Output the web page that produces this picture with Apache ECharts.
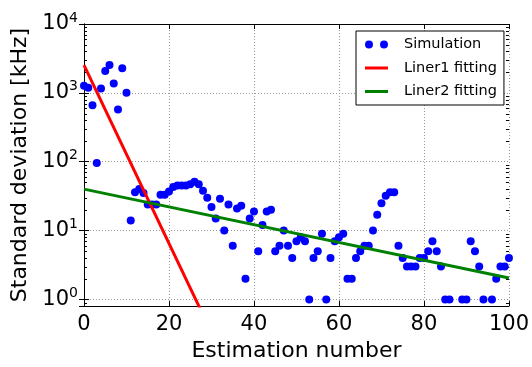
<!DOCTYPE html>
<html>
<head>
<meta charset="utf-8">
<script src="https://cdn.jsdelivr.net/npm/echarts@6.0.0/dist/echarts.min.js"></script>
<style>
  html, body { margin: 0; padding: 0; background: #fff; }
  #chart { width: 532px; height: 367px; }
</style>
</head>
<body>
<div id="chart"></div>
<script>
// simulation points, one per estimation number (null = not shown on log axis)
const simX = [];
for (let i = 0; i <= 100; i++) simX.push(i);
const simY = [
  1270, 1190, 660, 96, 1160, 2080, 2530, 1370, 575, 2270,
  1000, 14, 36, 40, 35, 24, 24, 24, 33, 33,
  37, 43, 45, 45, 45, 47, 51, 47, 38, 30,
  22, 15, 29, 10, 24, 6, 21, 23, 2, 15,
  19, 5, 12, 19, 20, 5, 6, 10, 6, 4,
  7, 8, 7, 1, 4, 5, 9, 1, 4, 7,
  8, 9, 2, 2, 4, 5, 6, 6, 10, 17,
  25, 32, 36, 36, 6, 4, 3, 3, 3, 4,
  4, 5, 7, 5, 3, 1, 1, null, null, 1,
  1, 7, 5, 3, 1, null, 1, 2, 3, 3,
  4
]

// fitted lines (end points)
const fit1X = [0, 30]
const fit1Y = [2530, 0.33]
const fit2X = [0, 100]
const fit2Y = [40, 2.05]

const xTicks = [0, 20, 40, 60, 80, 100]
const yMin = 0.8
const yMax = 10000

// minor ticks of the log axis: 2..9 per decade
const minorTicks = [0.9]
for (let e = 0; e < 4; e++) {
  for (let m = 2; m <= 9; m++) minorTicks.push(m * Math.pow(10, e))
}

const FONT = 'DejaVu Sans'

const chart = echarts.init(document.getElementById('chart'))

const powLabel = (v) => {
  const e = Math.round(Math.log10(v))
  if (Math.abs(Math.log10(v) - e) > 1e-6) return ''
  return '{b|10}{s|' + e + '}'
}

const option = {
  animation: false,
  backgroundColor: '#fff',
  grid: { left: 84, right: 21, top: 24, bottom: 50 },
  legend: {
    orient: 'vertical',
    left: 356,
    top: 31,
    padding: [6, 7, 6, 9],
    itemGap: 8.5,
    itemWidth: 23,
    itemHeight: 8,
    backgroundColor: '#fff',
    borderColor: '#000',
    borderWidth: 1,
    textStyle: { fontFamily: FONT, fontSize: 14.5, color: '#000', padding: [0, 0, 0, 11] },
    data: [
      { name: 'Simulation', icon: 'path://M0,4a4,4 0 1,0 8,0a4,4 0 1,0 -8,0M15,4a4,4 0 1,0 8,0a4,4 0 1,0 -8,0' },
      { name: 'Liner1 fitting', icon: 'path://M0,0H23V3H0Z' },
      { name: 'Liner2 fitting', icon: 'path://M0,0H23V3H0Z' }
    ]
  },
  xAxis: [
    {
      type: 'value',
      min: 0,
      max: 100,
      interval: 20,
      name: 'Estimation number',
      nameLocation: 'middle',
      nameGap: 31,
      nameTextStyle: { fontFamily: FONT, fontSize: 22, color: '#000' },
      axisLine: { show: true, lineStyle: { color: '#000', width: 1 } },
      axisTick: { show: true, inside: true, length: 5, lineStyle: { color: '#000' } },
      axisLabel: {
        fontFamily: FONT, fontSize: 21, color: '#000', margin: 8,
        formatter: (v) => xTicks.indexOf(v) >= 0 ? String(v) : ''
      },
      splitLine: { show: true, lineStyle: { color: '#999', type: [1, 2], width: 1 } }
    },
    {
      type: 'value',
      position: 'top',
      min: 0,
      max: 100,
      interval: 20,
      axisLine: { show: true, lineStyle: { color: '#000', width: 1 } },
      axisTick: { show: true, inside: true, length: 5, lineStyle: { color: '#000' } },
      axisLabel: { show: false },
      splitLine: { show: false }
    }
  ],
  yAxis: [
    {
      type: 'log',
      logBase: 10,
      min: yMin,
      max: yMax,
      name: 'Standard deviation [kHz]',
      nameLocation: 'middle',
      nameRotate: 90,
      nameGap: 49,
      nameTextStyle: { fontFamily: FONT, fontSize: 22, color: '#000' },
      axisLine: { show: true, lineStyle: { color: '#000', width: 1 } },
      axisTick: { show: true, inside: true, length: 5, lineStyle: { color: '#000' } },
      axisLabel: {
        margin: 6,
        formatter: powLabel,
        rich: {
          b: { fontFamily: FONT, fontSize: 21, color: '#000' },
          s: { fontFamily: FONT, fontSize: 14, color: '#000', padding: [0, 0, 12, 0] }
        }
      },
      splitLine: { show: true, lineStyle: { color: '#999', type: [1, 2], width: 1 } }
    },
    {
      type: 'log',
      logBase: 10,
      min: yMin,
      max: yMax,
      position: 'right',
      axisLine: { show: true, lineStyle: { color: '#000', width: 1 } },
      axisTick: { show: true, inside: true, length: 5, lineStyle: { color: '#000' } },
      axisLabel: { show: false },
      splitLine: { show: false }
    }
  ],
  series: [
    {
      name: 'Simulation',
      type: 'scatter',
      symbol: 'circle',
      symbolSize: 8,
      itemStyle: { color: '#0000ff', opacity: 1 },
      data: simX.map((x, i) => [x, simY[i]]).filter(d => d[1] != null),
      z: 3
    },
    {
      name: 'Liner1 fitting',
      type: 'line',
      showSymbol: false,
      lineStyle: { color: '#ff0000', width: 3 },
      itemStyle: { color: '#ff0000' },
      data: fit1X.map((x, i) => [x, fit1Y[i]]),
      z: 4
    },
    {
      name: 'Liner2 fitting',
      type: 'line',
      showSymbol: false,
      lineStyle: { color: '#008000', width: 3 },
      itemStyle: { color: '#008000' },
      data: fit2X.map((x, i) => [x, fit2Y[i]]),
      z: 4
    },
    {
      // minor ticks on left and right frame
      type: 'custom',
      silent: true,
      clip: false,
      data: minorTicks.map(v => [0, v]),
      renderItem: (params, api) => {
        const cs = params.coordSys
        const y = Math.round(api.coord([0, api.value(1)])[1]) + 0.5
        const st = { stroke: '#000', lineWidth: 1 }
        return {
          type: 'group',
          children: [
            { type: 'line', shape: { x1: cs.x, y1: y, x2: cs.x + 3, y2: y }, style: st },
            { type: 'line', shape: { x1: cs.x + cs.width, y1: y, x2: cs.x + cs.width - 3, y2: y }, style: st }
          ]
        }
      }
    }
  ]
}

chart.setOption(option)
</script>
</body>
</html>
